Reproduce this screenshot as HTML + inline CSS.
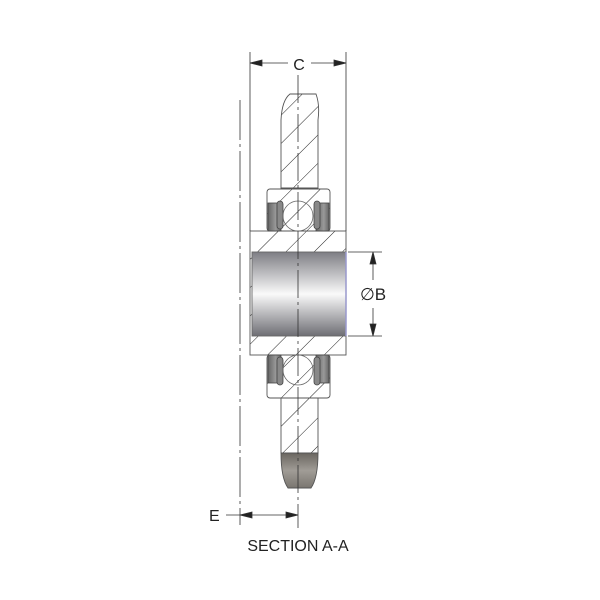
<!DOCTYPE html>
<html><head><style>body{margin:0;background:#fff}svg{display:block}</style></head><body>
<svg width="600" height="600" viewBox="0 0 600 600" xmlns="http://www.w3.org/2000/svg" font-family="Liberation Sans, sans-serif">
<defs>
<pattern id="h" patternUnits="userSpaceOnUse" width="20" height="20" patternTransform="rotate(45)">
<line x1="0" y1="0" x2="0" y2="20" stroke="#222" stroke-width="1"/>
</pattern>
<linearGradient id="bore" x1="0" y1="0" x2="0" y2="1">
<stop offset="0" stop-color="#7e7e84"/><stop offset="0.5" stop-color="#fafafa"/><stop offset="1" stop-color="#6e6e74"/>
</linearGradient>
<linearGradient id="tip" x1="0" y1="0" x2="0" y2="1">
<stop offset="0" stop-color="#6a6660"/><stop offset="0.5" stop-color="#a09c96"/><stop offset="1" stop-color="#7a7670"/>
</linearGradient>
<linearGradient id="seal" x1="0" y1="0" x2="1" y2="0">
<stop offset="0" stop-color="#666"/><stop offset="0.6" stop-color="#999"/><stop offset="1" stop-color="#666"/>
</linearGradient>
</defs>
<g stroke="#555" stroke-width="0.9">
<path d="M281,188 L281,120 Q282,100 290,94 L316,94 Q320,105 318,120 L318,188 Z" fill="url(#h)"/>
<path d="M281,398 L281,453 L318,453 L318,398 Z" fill="url(#h)"/>
<path d="M281,453 L318,453 Q318,478 311,488 L288,488 Q281,478 281,453 Z" fill="url(#tip)"/>
<rect x="267" y="189" width="63" height="42" rx="3" fill="url(#h)"/>
<rect x="267" y="355" width="63" height="43" rx="3" fill="url(#h)"/>
<rect x="250" y="231" width="96" height="124" fill="url(#h)"/>
<rect x="252" y="252" width="94" height="84" fill="url(#bore)" stroke="#666"/>
<line x1="346" y1="252" x2="346" y2="336" stroke="#99c" stroke-width="1.5"/>
</g>
<g stroke="#444" stroke-width="0.8">
<rect x="268" y="203" width="13" height="28" fill="url(#seal)"/>
<rect x="316" y="203" width="13" height="28" fill="url(#seal)"/>
<rect x="268" y="355" width="13" height="28" fill="url(#seal)"/>
<rect x="316" y="355" width="13" height="28" fill="url(#seal)"/>
<rect x="277" y="201" width="6" height="28" rx="3" fill="#888"/>
<rect x="314" y="201" width="6" height="28" rx="3" fill="#888"/>
<rect x="277" y="357" width="6" height="28" rx="3" fill="#888"/>
<rect x="314" y="357" width="6" height="28" rx="3" fill="#888"/>
<circle cx="298" cy="216" r="15" fill="none" stroke="#666"/>
<circle cx="298" cy="370" r="15" fill="none" stroke="#666"/>
</g>
<line x1="298" y1="75" x2="298" y2="528" stroke="#333" stroke-width="0.8" stroke-dasharray="28,4,3,4"/>
<line x1="240" y1="100" x2="240" y2="525" stroke="#333" stroke-width="0.8" stroke-dasharray="40,4,3,4"/>
<g stroke="#333" stroke-width="0.8" fill="#222">
<line x1="250" y1="52" x2="250" y2="231"/>
<line x1="346" y1="52" x2="346" y2="231"/>
<line x1="250" y1="63" x2="288" y2="63"/><line x1="311" y1="63" x2="346" y2="63"/>
<path d="M250,63 l12,-3 v6 z M346,63 l-12,-3 v6 z"/>
<line x1="348" y1="252" x2="382" y2="252"/>
<line x1="348" y1="336" x2="382" y2="336"/>
<line x1="373" y1="252" x2="373" y2="280"/><line x1="373" y1="308" x2="373" y2="336"/>
<path d="M373,252 l-3,12 h6 z M373,336 l-3,-12 h6 z"/>
<line x1="226" y1="515" x2="298" y2="515"/>
<path d="M240,515 l12,-3 v6 z M298,515 l-12,-3 v6 z"/>
</g>
<g fill="#222" font-size="16">
<text x="299" y="70" text-anchor="middle">C</text>
<text x="360" y="300" font-size="17">∅B</text>
<text x="209" y="521">E</text>
<text x="298" y="551" text-anchor="middle">SECTION A-A</text>
</g>
</svg>
</body></html>
